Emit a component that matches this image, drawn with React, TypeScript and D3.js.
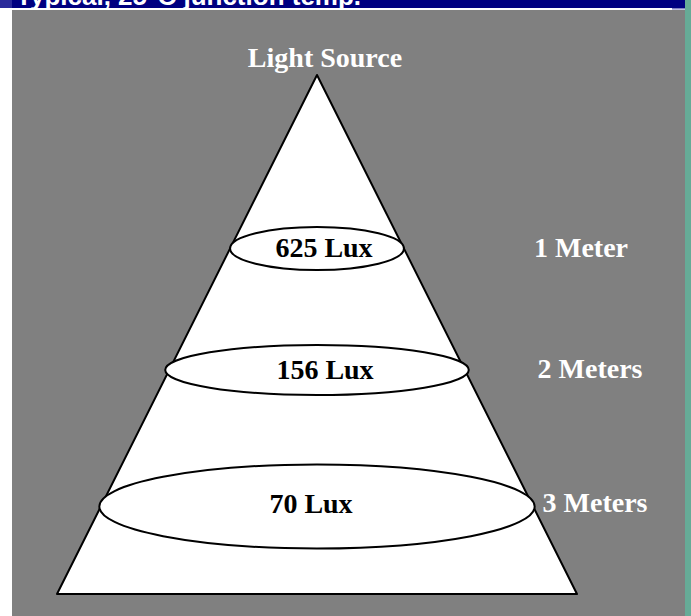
import * as d3 from "d3"

const title = "Typical, 25°C junction temp."
const sourceLabel = "Light Source"
const distanceLabels = ["1 Meter", "2 Meters", "3 Meters"]
const distances = [1, 2, 3]
const luxValues = [625, 156, 70]

const W = 691
const H = 616
const apex = { x: 317, y: 75 }
const baseY = 594
const baseHalf = 260

// depth in meters -> pixel y (the drawing isn't to scale)
const yScale = d3.scaleLinear().domain([0, 1, 2, 3, 3.64]).range([apex.y, 248.5, 370, 506.5, baseY])
// pixel y -> half width of the cone
const halfWidth = d3.scaleLinear().domain([apex.y, baseY]).range([0, baseHalf])

const ringRy = [21.5, 25, 42]
const ringPad = [0, 4, 1.5]
const luxX = [324, 325, 311]
const labelX = [581, 590, 595]

export default function App() {
  const cone = d3.line()([
    [apex.x, apex.y],
    [apex.x + halfWidth(baseY), baseY],
    [apex.x - halfWidth(baseY), baseY],
  ]) + "Z"

  return (
    <svg width={W} height={H} style={{ position: "absolute", left: 0, top: 0, display: "block" }}>
      <defs>
        <clipPath id="hdr">
          <rect x={0} y={0} width={685} height={8} />
        </clipPath>
      </defs>
      <rect x={0} y={0} width={W} height={H} fill="#ffffff" />
      <rect x={12} y={10} width={673} height={H - 10} fill="#808080" />
      <rect x={0} y={0} width={685} height={8} fill="#000080" />
      <rect x={0} y={0} width={12} height={8} fill="#2a2a9a" />
      <rect x={672} y={8} width={13} height={1.5} fill="#8080c0" />
      <rect x={685} y={0} width={6} height={H} fill="#66ab97" />
      <g clipPath="url(#hdr)">
        <text x={16} y={5} fill="#ffffff" fontFamily="Liberation Sans, Arial, sans-serif" fontWeight="bold" fontSize={26}>
          {title}
        </text>
      </g>

      <text x={apex.x + 8} y={66.5} textAnchor="middle" fill="#ffffff" fontFamily="Liberation Serif, Times New Roman, serif" fontWeight="bold" fontSize={28}>
        {sourceLabel}
      </text>

      <path d={cone} fill="#ffffff" stroke="#000000" strokeWidth={2} strokeLinejoin="round" />

      {distances.map((m, i) => {
        const cy = yScale(m)
        return (
          <g key={m}>
            <ellipse cx={apex.x} cy={cy} rx={halfWidth(cy) + ringPad[i]} ry={ringRy[i]} fill="#ffffff" stroke="#000000" strokeWidth={2} />
            <text x={luxX[i]} y={cy + (i === 2 ? 6 : 8.5)} textAnchor="middle" fill="#000000" fontFamily="Liberation Serif, Times New Roman, serif" fontWeight="bold" fontSize={28}>
              {`${luxValues[i]} Lux`}
            </text>
            <text x={labelX[i]} y={cy + (i === 2 ? 5.5 : 8)} textAnchor="middle" fill="#ffffff" fontFamily="Liberation Serif, Times New Roman, serif" fontWeight="bold" fontSize={28}>
              {distanceLabels[i]}
            </text>
          </g>
        )
      })}
    </svg>
  )
}
